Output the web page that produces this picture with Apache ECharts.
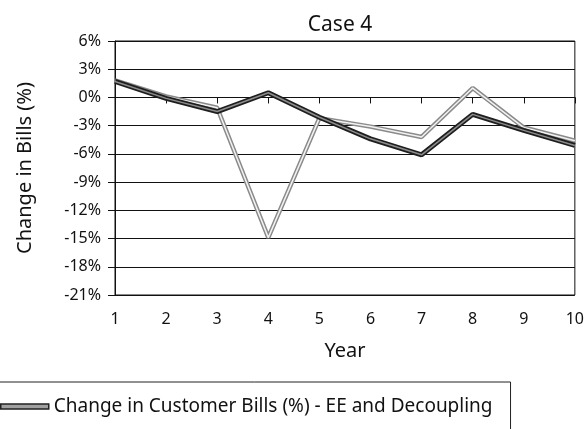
<!DOCTYPE html>
<html>
<head>
<meta charset="utf-8">
<script src="https://cdn.jsdelivr.net/npm/echarts@6/dist/echarts.min.js"></script>
<style>
  html, body { margin: 0; padding: 0; background: #fff; }
  #chart { width: 587px; height: 429px; }
</style>
</head>
<body>
<div id="chart"></div>
<script>
var years = ['1', '2', '3', '4', '5', '6', '7', '8', '9', '10']
var eeDecoupling = [1.7, -0.1, -1.5, 0.5, -2.1, -4.4, -6.1, -1.8, -3.5, -5.1]
var otherCase = [1.8, 0.1, -1.1, -14.9, -2.2, -3.1, -4.2, 1.0, -3.2, -4.6]
var yTicks = { min: -21, max: 6, step: 3 }

var seriesName = 'Change in Customer Bills (%) - EE and Decoupling'
var font = 'Noto Sans'

var chart = echarts.init(document.getElementById('chart'))
chart.setOption({
  animation: false,
  textStyle: { fontFamily: font },
  title: {
    text: 'Case 4',
    left: 335,
    top: 10,
    textAlign: 'center',
    textStyle: { fontFamily: font, fontSize: 21, fontWeight: 'normal', color: '#111' }
  },
  grid: {
    left: 115,
    right: 9,
    top: 41,
    bottom: 134,
    show: true,
    borderColor: '#111',
    borderWidth: 1
  },
  legend: {
    data: [{ name: seriesName, icon: 'rect', itemStyle: { color: '#a0a0a0', borderColor: '#222', borderWidth: 1.5 } }],
    left: -12,
    top: 382,
    orient: 'vertical',
    itemWidth: 48,
    itemHeight: 5,
    itemGap: 6,
    padding: [15, 18, 60, 12],
    borderColor: '#222',
    borderWidth: 1,
    textStyle: { fontFamily: font, fontSize: 19, color: '#111' }
  },
  xAxis: {
    type: 'category',
    data: years,
    boundaryGap: false,
    name: 'Year',
    nameLocation: 'middle',
    nameGap: 46,
    nameTextStyle: { fontFamily: font, fontSize: 20, color: '#111' },
    axisLine: { lineStyle: { color: '#111', width: 1 } },
    axisTick: { show: true, inside: false, length: 6, lineStyle: { color: '#111' } },
    axisLabel: { fontFamily: font, fontSize: 16, color: '#111', margin: 16 },
    splitLine: { show: false }
  },
  yAxis: {
    type: 'value',
    min: yTicks.min,
    max: yTicks.max,
    interval: yTicks.step,
    name: 'Change in Bills (%)',
    nameLocation: 'middle',
    nameGap: 80,
    nameTextStyle: { fontFamily: font, fontSize: 20, color: '#111' },
    axisLine: { show: true, lineStyle: { color: '#111', width: 1 } },
    axisTick: { show: true, length: 7, lineStyle: { color: '#111' } },
    axisLabel: { fontFamily: font, fontSize: 16, color: '#111', margin: 14, formatter: function (v) { return v + '%' } },
    splitLine: { show: true, lineStyle: { color: '#111', width: 1.2 } }
  },
  series: [
    {
      name: 'Other case',
      type: 'line',
      data: otherCase,
      symbol: 'none',
      lineStyle: { color: '#8a8a8a', width: 4.5 },
      z: 2
    },
    {
      name: 'Other case inner',
      type: 'line',
      data: otherCase,
      symbol: 'none',
      lineStyle: { color: '#f2f2f2', width: 1.5 },
      z: 3
    },
    {
      name: seriesName,
      type: 'line',
      data: eeDecoupling,
      symbol: 'none',
      lineStyle: { color: '#1e1e1e', width: 5 },
      z: 4
    },
    {
      name: 'EE inner',
      type: 'line',
      data: eeDecoupling,
      symbol: 'none',
      lineStyle: { color: '#8c8c8c', width: 1.5 },
      z: 5
    }
  ]
})
</script>
</body>
</html>
